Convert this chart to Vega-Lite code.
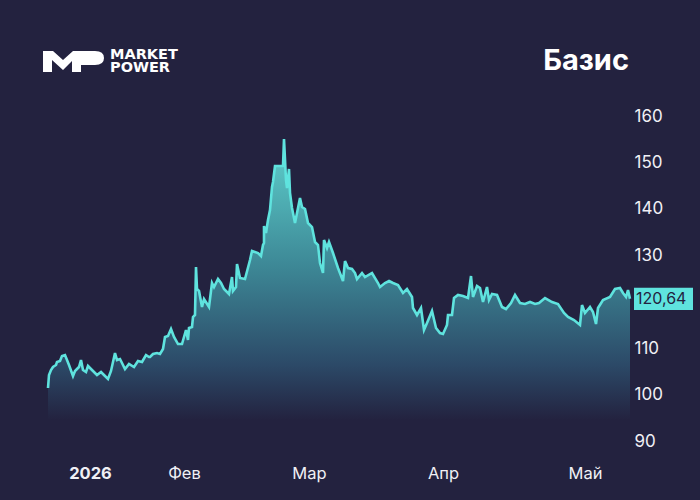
{
  "$schema": "https://vega.github.io/schema/vega-lite/v6.json",
  "description": "Базис, 2026",
  "width": 583,
  "height": 360,
  "autosize": {"type": "none"},
  "padding": {"left": 47, "top": 100, "right": 70, "bottom": 40},
  "background": "#23223f",
  "config": {"view": {"stroke": null}, "font": "Inter"},
  "datasets": {
    "basis": [
      {"t":1,"v":101.42},{"t":2,"v":104.22},{"t":4,"v":105.29},{"t":6,"v":105.94},{"t":9,"v":106.37},{"t":10,"v":107.02},{"t":13,"v":107.23},{"t":15,"v":108.31},{"t":18,"v":108.52},{"t":20,"v":107.45},{"t":22,"v":106.37},{"t":26,"v":104.0},{"t":28,"v":105.08},{"t":30,"v":105.51},{"t":32,"v":105.94},{"t":34,"v":107.45},{"t":36,"v":105.29},{"t":39,"v":104.86},{"t":41,"v":106.16},{"t":45,"v":105.29},{"t":48,"v":104.65},{"t":50,"v":104.22},{"t":54,"v":104.86},{"t":57,"v":104.22},{"t":61,"v":103.36},{"t":64,"v":105.08},{"t":68,"v":108.96},{"t":70,"v":107.45},{"t":73,"v":107.66},{"t":75,"v":106.8},{"t":78,"v":105.51},{"t":82,"v":106.59},{"t":87,"v":105.94},{"t":91,"v":107.23},{"t":95,"v":107.02},{"t":99,"v":108.52},{"t":102,"v":108.09},{"t":103,"v":108.09},{"t":106,"v":108.74},{"t":110,"v":108.96},{"t":113,"v":108.74},{"t":116,"v":109.82},{"t":118,"v":112.4},{"t":121,"v":112.62},{"t":124,"v":114.12},{"t":127,"v":112.4},{"t":131,"v":110.89},{"t":135,"v":110.89},{"t":139,"v":113.91},{"t":141,"v":111.76},{"t":142,"v":114.34},{"t":145,"v":114.56},{"t":146,"v":116.71},{"t":148,"v":117.14},{"t":149,"v":127.48},{"t":150,"v":122.74},{"t":152,"v":122.31},{"t":155,"v":118.86},{"t":157,"v":120.59},{"t":162,"v":118.86},{"t":165,"v":124.03},{"t":167,"v":123.17},{"t":171,"v":124.89},{"t":174,"v":124.03},{"t":177,"v":122.74},{"t":182,"v":121.66},{"t":185,"v":125.32},{"t":186,"v":122.31},{"t":189,"v":123.17},{"t":190,"v":128.12},{"t":193,"v":125.11},{"t":198,"v":124.89},{"t":203,"v":128.99},{"t":205,"v":130.92},{"t":211,"v":130.49},{"t":214,"v":129.85},{"t":216,"v":132.22},{"t":217,"v":132.65},{"t":217,"v":136.31},{"t":219,"v":134.8},{"t":221,"v":137.6},{"t":223,"v":139.75},{"t":225,"v":144.71},{"t":226,"v":145.79},{"t":228,"v":149.23},{"t":236,"v":149.23},{"t":237,"v":155.05},{"t":239,"v":146.22},{"t":240,"v":144.49},{"t":242,"v":148.59},{"t":243,"v":143.42},{"t":245,"v":140.19},{"t":248,"v":136.95},{"t":251,"v":140.19},{"t":253,"v":142.34},{"t":255,"v":140.4},{"t":258,"v":139.97},{"t":261,"v":136.95},{"t":265,"v":136.09},{"t":268,"v":132.86},{"t":271,"v":132.22},{"t":273,"v":128.34},{"t":276,"v":126.19},{"t":277,"v":133.29},{"t":280,"v":131.57},{"t":282,"v":132.86},{"t":286,"v":130.49},{"t":291,"v":127.26},{"t":296,"v":124.46},{"t":298,"v":128.77},{"t":301,"v":127.26},{"t":305,"v":127.05},{"t":308,"v":126.19},{"t":310,"v":124.89},{"t":315,"v":126.19},{"t":318,"v":125.32},{"t":325,"v":126.19},{"t":331,"v":124.03},{"t":333,"v":123.17},{"t":338,"v":124.03},{"t":342,"v":124.46},{"t":346,"v":124.03},{"t":351,"v":123.6},{"t":356,"v":121.88},{"t":360,"v":122.74},{"t":365,"v":121.02},{"t":366,"v":118.65},{"t":370,"v":117.14},{"t":374,"v":118.65},{"t":377,"v":113.91},{"t":380,"v":115.42},{"t":385,"v":118.0},{"t":389,"v":114.34},{"t":393,"v":113.26},{"t":396,"v":113.05},{"t":400,"v":114.99},{"t":401,"v":117.14},{"t":404,"v":117.14},{"t":405,"v":117.14},{"t":407,"v":120.8},{"t":411,"v":121.45},{"t":416,"v":121.23},{"t":421,"v":120.8},{"t":424,"v":125.54},{"t":426,"v":121.02},{"t":430,"v":123.39},{"t":433,"v":122.95},{"t":436,"v":119.94},{"t":440,"v":123.17},{"t":442,"v":120.37},{"t":445,"v":121.66},{"t":450,"v":121.45},{"t":455,"v":118.86},{"t":459,"v":118.43},{"t":464,"v":119.72},{"t":468,"v":121.45},{"t":473,"v":119.72},{"t":478,"v":119.51},{"t":483,"v":119.94},{"t":488,"v":119.51},{"t":492,"v":119.72},{"t":498,"v":120.8},{"t":505,"v":119.94},{"t":511,"v":119.51},{"t":517,"v":117.57},{"t":521,"v":116.71},{"t":527,"v":116.06},{"t":533,"v":114.99},{"t":535,"v":119.29},{"t":538,"v":117.57},{"t":543,"v":118.86},{"t":546,"v":117.79},{"t":549,"v":115.2},{"t":551,"v":118.65},{"t":556,"v":120.37},{"t":563,"v":121.02},{"t":568,"v":122.74},{"t":573,"v":122.95},{"t":576,"v":121.88},{"t":579,"v":121.02},{"t":581,"v":122.52},{"t":583,"v":120.64}
    ]
  },
  "layer": [
    {
      "data": {"name": "basis"},
      "mark": {
        "type": "area",
        "interpolate": "linear",
        "color": {
          "gradient": "linear",
          "x1": 0, "y1": 0, "x2": 0, "y2": 1,
          "stops": [
            {"offset": 0, "color": "#5fd2ce"},
            {"offset": 0.45, "color": "#3d8896"},
            {"offset": 0.8, "color": "#2c4a68"},
            {"offset": 1, "color": "#23223f"}
          ]
        }
      },
      "encoding": {
        "x": {
          "field": "t",
          "type": "quantitative",
          "scale": {"domain": [0, 583], "nice": false, "zero": false},
          "title": null,
          "axis": {
            "values": [43, 137, 262, 396, 538],
            "labelExpr": "datum.value == 43 ? '2026' : datum.value == 137 ? 'Фев' : datum.value == 262 ? 'Мар' : datum.value == 396 ? 'Апр' : 'Май'",
            "labelFontSize": 16.5,
            "labelFontWeight": {"condition": {"test": "datum.value == 43", "value": 700}, "value": 400},
            "labelColor": "#f0f0f5",
            "labelPadding": 5,
            "labelOverlap": false,
            "labelFlush": false,
            "domain": false,
            "ticks": false,
            "grid": false
          }
        },
        "y": {
          "field": "v",
          "type": "quantitative",
          "scale": {"domain": [85.91, 163.45], "nice": false, "zero": false},
          "title": null,
          "axis": {
            "orient": "right",
            "values": [90, 100, 110, 130, 140, 150, 160],
            "labelFontSize": 17,
            "labelColor": "#f0f0f5",
            "labelPadding": 4,
            "domain": false,
            "ticks": false,
            "grid": false
          }
        },
        "y2": {"datum": 94.5}
      }
    },
    {
      "data": {"name": "basis"},
      "mark": {"type": "line", "color": "#5fe3de", "strokeWidth": 2.6, "strokeJoin": "miter"},
      "encoding": {
        "x": {"field": "t", "type": "quantitative"},
        "y": {"field": "v", "type": "quantitative"}
      }
    },
    {
      "data": {"values": [{"label": "120,64"}]},
      "mark": {"type": "rect", "color": "#5fe3de"},
      "encoding": {
        "x": {"datum": 587},
        "x2": {"datum": 646},
        "y": {"datum": 123.0},
        "y2": {"datum": 118.2}
      }
    },
    {
      "data": {"values": [{"label": "120,64", "v": 120.64}]},
      "mark": {"type": "text", "align": "left", "baseline": "middle", "dx": 6, "fontSize": 16, "color": "#23223f"},
      "encoding": {
        "x": {"datum": 583},
        "y": {"field": "v", "type": "quantitative"},
        "text": {"field": "label"}
      }
    },
    {
      "data": {"values": [{"label": "Базис"}]},
      "mark": {"type": "text", "align": "right", "baseline": "alphabetic", "fontSize": 29, "fontWeight": 700, "color": "#ffffff"},
      "encoding": {
        "x": {"datum": 582},
        "y": {"datum": 169.9},
        "text": {"field": "label"}
      }
    },
    {
      "data": {"values": [{"label": "MP"}]},
      "mark": {
        "type": "point",
        "filled": true,
        "opacity": 1,
        "color": "#ffffff",
        "size": 4,
        "shape": "M0,0 L10,0 L20,9 L30,0 L52,0 Q61,0 61,7 Q61,14 52,14 L38,14 L38,21 L29,21 L29,10 L20,19 L9,9 L9,21 L0,21 Z"
      },
      "encoding": {
        "x": {"datum": -4},
        "y": {"datum": 174}
      }
    },
    {
      "data": {"values": [{"label": "MARKET"}]},
      "mark": {"type": "text", "align": "left", "baseline": "alphabetic", "font": "DejaVu Sans", "fontWeight": 700, "fontSize": 14.5, "color": "#ffffff"},
      "encoding": {
        "x": {"datum": 63},
        "y": {"datum": 172.2},
        "text": {"field": "label"}
      }
    },
    {
      "data": {"values": [{"label": "POWER"}]},
      "mark": {"type": "text", "align": "left", "baseline": "alphabetic", "font": "DejaVu Sans", "fontWeight": 700, "fontSize": 14.5, "color": "#ffffff"},
      "encoding": {
        "x": {"datum": 63},
        "y": {"datum": 169.4},
        "text": {"field": "label"}
      }
    }
  ]
}
